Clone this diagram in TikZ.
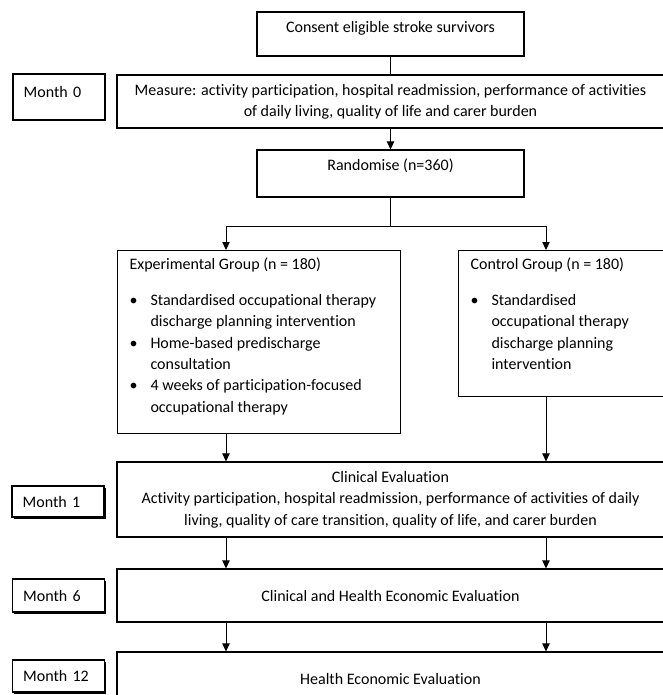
\documentclass[tikz,border=0pt]{standalone}
\usepackage{fontspec}
\setmainfont{Carlito}[Ligatures=NoCommon]
\usetikzlibrary{arrows.meta, positioning, shadows}

\newcommand{\bul}{\makebox[15.75pt][l]{\textbullet}}
\newcommand{\ind}{\hspace*{15.75pt}}

\begin{document}
\begin{tikzpicture}[x=0.75pt, y=-0.75pt,
          flowbox/.style={rectangle, draw=black, line width=0.8pt, fill=white, align=center, font=\fontsize{12}{16}\selectfont},
          groupbox/.style={rectangle, draw=black, line width=0.8pt, anchor=north west, inner xsep=9pt, inner ysep=3pt, font=\fontsize{12}{16}\selectfont},
          monthbox/.style={rectangle, draw=black, line width=0.8pt, fill=white, text width=53pt, inner xsep=8pt, align=left, font=\fontsize{12}{16}\selectfont},
          shadowed/.style={drop shadow={shadow xshift=1.2pt, shadow yshift=-1.2pt, fill=black, opacity=1}},
          arrow/.style={-{Triangle[length=6pt, width=5.5pt]}, line width=0.75pt},
          link/.style={line width=0.75pt}]

        \useasboundingbox (0,0) rectangle (662,695);

        % main column
        \node [flowbox, minimum width=200.25pt, minimum height=33pt, text depth=10pt] (consent) at (390.5,34) {Consent eligible stroke survivors};
        \node [flowbox, minimum width=410.25pt, minimum height=39.75pt] (measure) at (390.5,101.5) {Measure: activity participation, hospital readmission, performance of activities\\of daily living, quality of life and carer burden};
        \node [flowbox, minimum width=200.25pt, minimum height=35.25pt, text depth=14pt] (rand) at (390.5,173.5) {Randomise (n=360)};

        % the two arms
        \node [groupbox] (exp) at (117,250) {\begin{minipage}[t][131pt][t]{194.25pt}\strut Experimental Group (n = 180)\\[11pt]
          \bul Standardised occupational therapy\\
          \ind discharge planning intervention\\
          \bul Home-based predischarge\\
          \ind consultation\\
          \bul 4 weeks of participation-focused\\
          \ind occupational therapy\end{minipage}};
        \node [groupbox] (ctrl) at (458,250) {\begin{minipage}[t][103.5pt][t]{136pt}\strut Control Group (n = 180)\\[11pt]
          \bul Standardised\\
          \ind occupational therapy\\
          \ind discharge planning\\
          \ind intervention\end{minipage}};

        % follow-up
        \node [flowbox, minimum width=410.25pt, minimum height=56.25pt] (clin) at (390.5,499.5) {Clinical Evaluation\\Activity participation, hospital readmission, performance of activities of daily\\living, quality of care transition, quality of life, and carer burden};
        \node [flowbox, minimum width=410.25pt, minimum height=39.75pt] (che) at (390.5,595.5) {Clinical and Health Economic Evaluation};
        \node [flowbox, minimum width=410.25pt, minimum height=39.75pt] (he) at (390.5,678.5) {Health Economic Evaluation};

        % time points
        \node [monthbox, minimum height=34.5pt, text depth=8pt] (m0) at (59,97) {Month 0};
        \node [monthbox, shadowed, minimum height=23.25pt] (m1) at (58,501.5) {Month 1};
        \node [monthbox, shadowed, minimum height=24.75pt] (m6) at (58.5,595.5) {Month 6};
        \node [monthbox, shadowed, minimum height=24pt] (m12) at (58.5,676) {Month 12};

        \coordinate (colL) at (226,0);
        \coordinate (colR) at (546,0);
        \coordinate (split) at (390.5,226);

        \draw [link] (consent) -- (measure);
        \draw [arrow] (measure) -- (rand);
        \draw [link] (rand) -- (split);
        \draw [link] (split -| colL) -- (split -| colR);
        \draw [arrow] (split -| colL) -- (colL |- exp.north);
        \draw [arrow] (split -| colR) -- (colR |- ctrl.north);
        \draw [arrow] (colL |- exp.south) -- (colL |- clin.north);
        \draw [arrow] (colR |- ctrl.south) -- (colR |- clin.north);
        \draw [arrow] (colL |- clin.south) -- (colL |- che.north);
        \draw [arrow] (colR |- clin.south) -- (colR |- che.north);
        \draw [arrow] (colL |- che.south) -- (colL |- he.north);
        \draw [arrow] (colR |- che.south) -- (colR |- he.north);
      \end{tikzpicture}
\end{document}
